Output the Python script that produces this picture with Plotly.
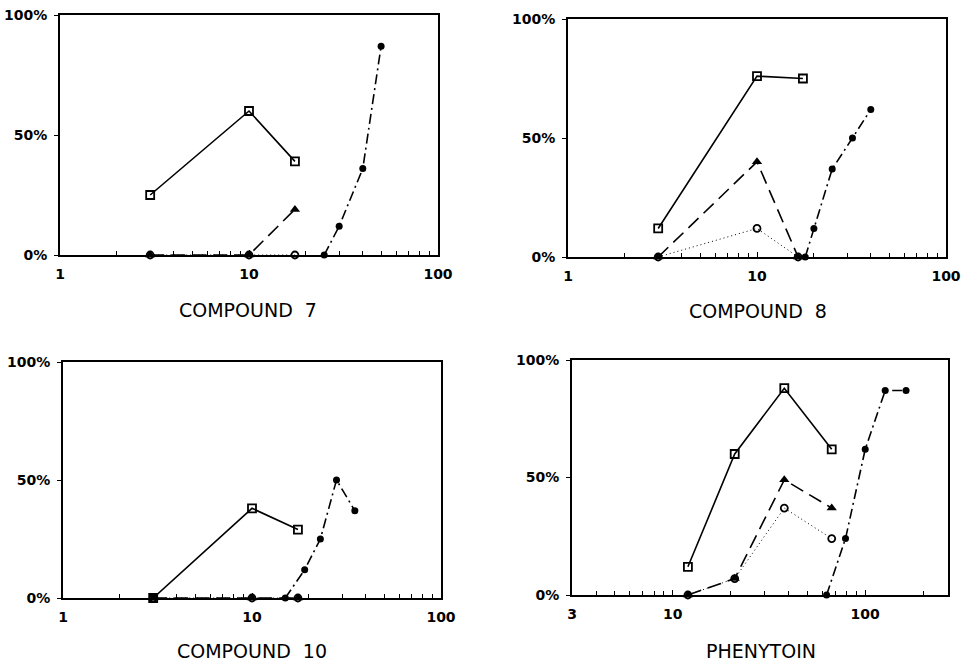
import plotly.graph_objects as go
import math

# ---------------- data ----------------
c7_sq_x = [3, 10, 17.5]
c7_sq_y = [25, 60, 39]
c7_tri_x = [3, 10, 17.5]
c7_tri_y = [0, 0, 19]
c7_cir_x = [3, 10, 17.5]
c7_cir_y = [0, 0, 0]
c7_dia_x = [25, 30, 40, 50]
c7_dia_y = [0, 12, 36, 87]

c8_sq_x = [3, 10, 17.5]
c8_sq_y = [12, 76, 75]
c8_tri_x = [3, 10, 16.5]
c8_tri_y = [0, 40, 0]
c8_cir_x = [3, 10, 16.5]
c8_cir_y = [0, 12, 0]
c8_dia_x = [18, 20, 25, 32, 40]
c8_dia_y = [0, 12, 37, 50, 62]

c10_sq_x = [3, 10, 17.5]
c10_sq_y = [0, 38, 29]
c10_tri_x = [3, 10, 17.5]
c10_tri_y = [0, 0, 0]
c10_cir_x = [3, 10, 17.5]
c10_cir_y = [0, 0, 0]
c10_dia_x = [15, 19, 23, 28, 35]
c10_dia_y = [0, 12, 25, 50, 37]

ph_sq_x = [12, 21, 38, 67]
ph_sq_y = [12, 60, 88, 62]
ph_tri_x = [12, 21, 38, 67]
ph_tri_y = [0, 7, 49, 37]
ph_cir_x = [12, 21, 38, 67]
ph_cir_y = [0, 7, 37, 24]
ph_dia_x = [63, 79, 100, 127, 163]
ph_dia_y = [0, 24, 62, 87, 87]

titles = ["COMPOUND  7", "COMPOUND  8", "COMPOUND  10", "PHENYTOIN"]
y_tickvals = [0, 50, 100]
y_ticktext = ["0%", "50%", "100%"]
x_ticks_a = [1, 10, 100]
x_ticks_b = [3, 10, 100]

panels = [
    (c7_sq_x, c7_sq_y, c7_tri_x, c7_tri_y, c7_cir_x, c7_cir_y, c7_dia_x, c7_dia_y),
    (c8_sq_x, c8_sq_y, c8_tri_x, c8_tri_y, c8_cir_x, c8_cir_y, c8_dia_x, c8_dia_y),
    (c10_sq_x, c10_sq_y, c10_tri_x, c10_tri_y, c10_cir_x, c10_cir_y, c10_dia_x, c10_dia_y),
    (ph_sq_x, ph_sq_y, ph_tri_x, ph_tri_y, ph_cir_x, ph_cir_y, ph_dia_x, ph_dia_y),
]

W, H = 961, 661
# plot boxes in screen pixels: (left, right, top, bottom)
boxes = [(60, 438, 15, 255), (568, 946, 19, 257), (63, 441, 362, 598), (572, 948, 360, 595)]
title_pos = [(248, 310), (758, 311), (252, 651), (761, 651)]
xranges = [[0, 2], [0, 2], [0, 2], [math.log10(3), 2.43]]
xticks = [x_ticks_a, x_ticks_a, x_ticks_a, x_ticks_b]
minors = [
    [2, 3, 4, 5, 6, 7, 8, 9, 20, 30, 40, 50, 60, 70, 80, 90],
    [2, 3, 4, 5, 6, 7, 8, 9, 20, 30, 40, 50, 60, 70, 80, 90],
    [2, 3, 4, 5, 6, 7, 8, 9, 20, 30, 40, 50, 60, 70, 80, 90],
    [4, 5, 6, 7, 8, 9, 20, 30, 40, 50, 60, 70, 80, 90, 200],
]

fig = go.Figure()
tickfont = dict(family="DejaVu Sans", size=14, color="black", weight="bold")

for i, p in enumerate(panels):
    sqx, sqy, trx, try_, cix, ciy, dix, diy = p
    xa = "x" if i == 0 else f"x{i+1}"
    ya = "y" if i == 0 else f"y{i+1}"
    common = dict(xaxis=xa, yaxis=ya, mode="lines+markers", showlegend=False, hoverinfo="skip", cliponaxis=False)
    fig.add_trace(go.Scatter(x=cix, y=ciy, line=dict(color="black", width=1, dash="1px,3px"),
                             marker=dict(symbol="circle-open", size=7, color="black", line=dict(width=1.8)), **common))
    fig.add_trace(go.Scatter(x=trx, y=try_, line=dict(color="black", width=1.6, dash="14px,7px"),
                             marker=dict(symbol="triangle-up", size=9, color="black"), **common))
    fig.add_trace(go.Scatter(x=sqx, y=sqy, line=dict(color="black", width=1.6),
                             marker=dict(symbol="square-open", size=8, color="black", line=dict(width=1.8)), **common))
    fig.add_trace(go.Scatter(x=dix, y=diy, line=dict(color="black", width=1.6, dash="10px,4px,2px,4px"),
                             marker=dict(symbol="circle", size=7, color="black"), **common))

    l, r, t, b = boxes[i]
    xdom = [l / W, r / W]
    ydom = [1 - b / H, 1 - t / H]
    xkey = "xaxis" if i == 0 else f"xaxis{i+1}"
    ykey = "yaxis" if i == 0 else f"yaxis{i+1}"
    fig.update_layout(**{
        xkey: dict(type="log", domain=xdom, range=xranges[i], anchor=ya, automargin=False,
                   tickmode="array", tickvals=xticks[i], ticktext=[str(v) for v in xticks[i]],
                   ticks="inside", ticklen=5, tickwidth=1.3, tickcolor="black",
                   minor=dict(tickmode="array", tickvals=minors[i], ticks="inside", ticklen=4,
                              tickwidth=1.2, tickcolor="black", showgrid=False),
                   showline=True, linecolor="black", linewidth=2, mirror=True,
                   showgrid=False, zeroline=False, tickfont=tickfont, ticklabelstandoff=5,
                   ticklabeloverflow="allow"),
        ykey: dict(domain=ydom, range=[0, 100], anchor=xa, automargin=False,
                   tickmode="array", tickvals=y_tickvals, ticktext=y_ticktext,
                   ticks="outside", ticklen=4, tickwidth=1.3, tickcolor="black",
                   showline=True, linecolor="black", linewidth=2, mirror=True,
                   showgrid=False, zeroline=False, tickfont=tickfont, ticklabelstandoff=4,
                   ticklabeloverflow="allow"),
    })
    tx, ty = title_pos[i]
    fig.add_annotation(text=titles[i], xref="paper", yref="paper", x=tx / W, y=1 - ty / H,
                       xanchor="center", yanchor="middle", showarrow=False,
                       font=dict(family="DejaVu Sans", size=19, color="black"))

fig.update_layout(width=W, height=H, margin=dict(l=0, r=0, t=0, b=0, autoexpand=False),
                  paper_bgcolor="white", plot_bgcolor="white", showlegend=False)

fig.write_html("out.html", config={"displayModeBar": False},
               post_script="document.body.style.margin='0px';document.body.style.overflow='hidden';")
